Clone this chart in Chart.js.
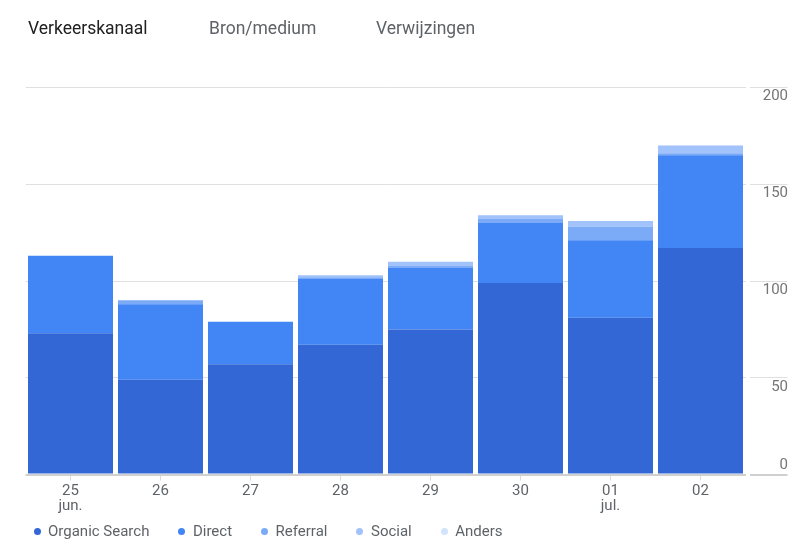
<!DOCTYPE html>
<html>
<head>
<meta charset="utf-8">
<script src="https://cdn.jsdelivr.net/npm/chart.js@4.4.0/dist/chart.umd.min.js"></script>
<style>
  body { margin: 0; background: #fff; font-family: Roboto, sans-serif; }
  #wrap { position: relative; width: 810px; height: 559px; }
  #tabs span { position: absolute; top: 19px; font-size: 17.5px; line-height: 18px; color: #5f6368; white-space: nowrap; }
  #tabs span.active { color: #212121; }
  #legend { position: absolute; left: 33.5px; top: 521px; height: 20px; display: flex; align-items: center; gap: 29px; }
  #legend .item { display: flex; align-items: center; font-size: 15px; color: #5f6368; white-space: nowrap; }
  #legend .dot { width: 7px; height: 7px; border-radius: 50%; margin-right: 7.5px; }
</style>
</head>
<body>
<div id="wrap">
  <canvas id="verkeer"></canvas>
  <div id="tabs">
    <span class="active" style="left:28px">Verkeerskanaal</span>
    <span style="left:209px">Bron/medium</span>
    <span style="left:376px">Verwijzingen</span>
  </div>
  <div id="legend"></div>
</div>
<script>
const dagen = [['25', 'jun.'], '26', '27', '28', '29', '30', ['01', 'jul.'], '02'];

const organicSearch = [73, 49, 57, 67, 75, 99, 81, 117];
const direct = [40, 39, 22, 34, 32, 31, 40, 48];
const referral = [0, 2, 0, 1, 1, 2, 7, 1];
const social = [0, 0, 0, 1, 2, 2, 3, 4];
const anders = [0, 0, 0, 0, 0, 0, 0, 0];

const kanaalNamen = ['Organic Search', 'Direct', 'Referral', 'Social', 'Anders'];
const kanaalKleuren = ['#3367d6', '#4285f4', '#7baaf7', '#a1c2fa', '#d2e3fc'];
const reeksen = [organicSearch, direct, referral, social, anders];

const ctxVerkeer = document.getElementById('verkeer');

const dataVerkeer = {
    labels: dagen,
    datasets: reeksen.map((waarden, i) => ({
        label: kanaalNamen[i],
        data: waarden,
        backgroundColor: kanaalKleuren[i],
        borderWidth: 0,
        barPercentage: 85 / 90,
        categoryPercentage: 1
    }))
};

const configVerkeer = {
    type: 'bar',
    data: dataVerkeer,
    options: {
        responsive: true,
        maintainAspectRatio: false,
        animation: false,
        layout: {
            padding: { left: 25.5, right: 22.5, top: 87.5, bottom: 44.5 }
        },
        plugins: {
            legend: { display: false },
            tooltip: { enabled: false }
        },
        scales: {
            x: {
                stacked: true,
                border: { display: false },
                grid: {
                    drawOnChartArea: false,
                    offset: false,
                    tickLength: 6,
                    color: '#d9d9d9'
                },
                ticks: {
                    padding: 3,
                    maxRotation: 0,
                    autoSkip: false,
                    color: '#5f6368',
                    font: { family: 'Roboto', size: 15, lineHeight: 1 }
                },
                afterFit: (scale) => { scale.height = 40; }
            },
            y: {
                stacked: true,
                position: 'right',
                min: 0,
                max: 200,
                border: { display: false },
                grid: {
                    color: (c) => c.tick && c.tick.value === 0 ? '#d0d0d0' : '#e0e0e0',
                    lineWidth: (c) => c.tick && c.tick.value === 0 ? 2 : 1,
                    tickLength: 42,
                    tickBorderDash: [0, 4, 38, 100]
                },
                ticks: {
                    stepSize: 50,
                    mirror: true,
                    padding: 42.5,
                    color: '#757575',
                    font: { family: 'Roboto', size: 15, lineHeight: 1.2 },
                    callback: (v) => v === 0 ? ['0', ''] : ['', String(v)]
                },
                afterFit: (scale) => { scale.width = 42; }
            }
        }
    }
};

const barChartVerkeer = new Chart(ctxVerkeer, configVerkeer);

// legenda onder de grafiek
const legenda = document.getElementById('legend');
kanaalNamen.forEach((naam, i) => {
    const item = document.createElement('div');
    item.className = 'item';
    item.innerHTML = '<span class="dot" style="background:' + kanaalKleuren[i] + '"></span>' + naam;
    legenda.appendChild(item);
});
</script>
</body>
</html>
